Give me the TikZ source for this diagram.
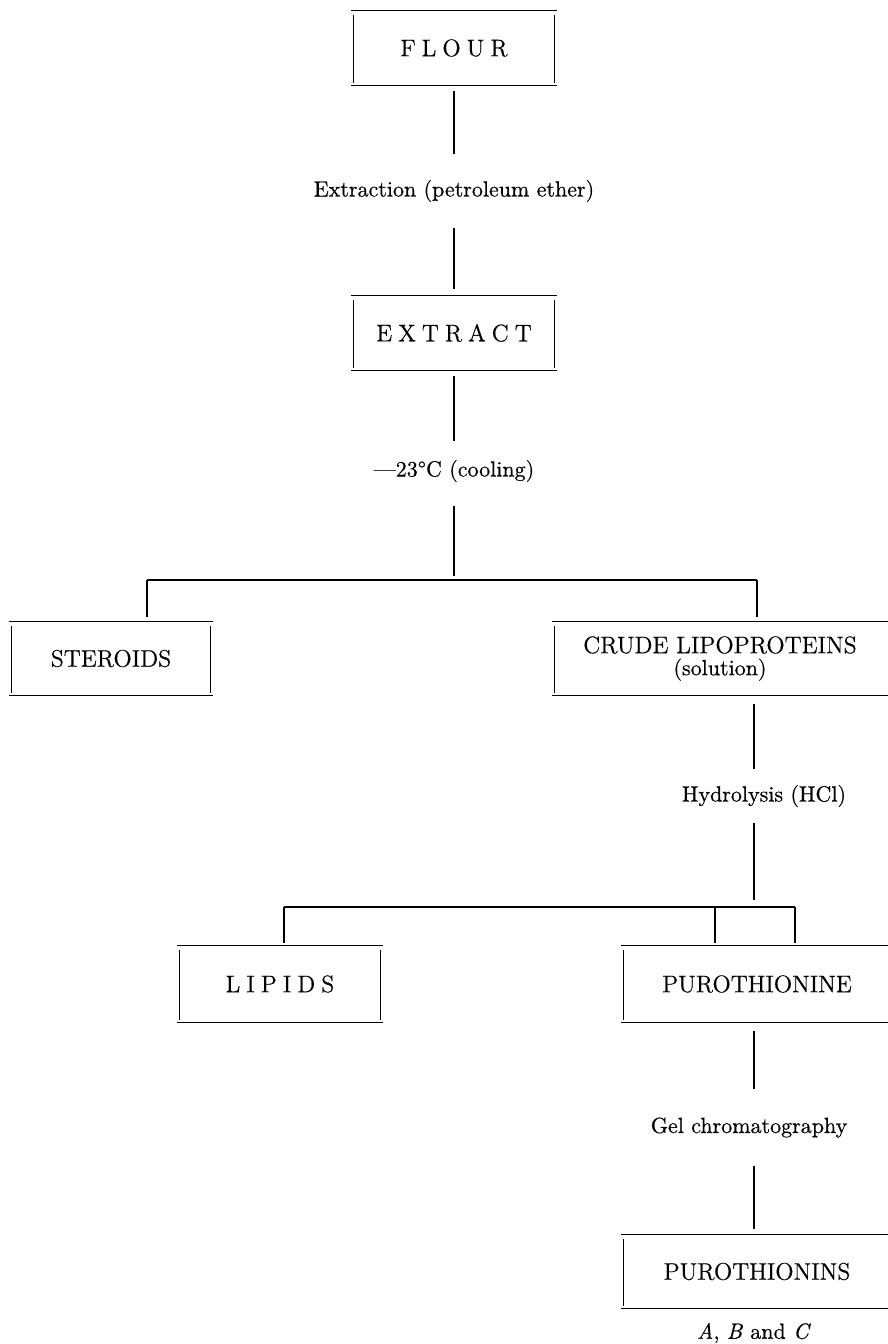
\documentclass[tikz,border=0pt]{standalone}
\usepackage{fontspec}
\setmainfont{Latin Modern Roman}[FakeBold=0.5]
\newcommand\boxfont{\fontsize{12}{14}\selectfont}
\newcommand\labfont{\fontsize{11}{13}\selectfont}
\newcommand\lsp{\kern3pt}
\tikzset{
  every edge/.append style={line width=0.55pt},
  box/.style={inner sep=0pt, font=\boxfont, align=center,
    append after command={
      (\tikzlastnode.north west) edge (\tikzlastnode.north east)
      (\tikzlastnode.south west) edge (\tikzlastnode.south east)
      ([xshift=1pt,yshift=-2.5pt]\tikzlastnode.north west) edge ([xshift=1pt,yshift=1.5pt]\tikzlastnode.south west)
      ([xshift=-1pt,yshift=-2.5pt]\tikzlastnode.north east) edge ([xshift=-1pt,yshift=1.5pt]\tikzlastnode.south east)}},
  openbox/.style={inner sep=0pt, font=\boxfont, align=center,
    append after command={
      (\tikzlastnode.north west) edge (\tikzlastnode.north east)
      (\tikzlastnode.south west) edge (\tikzlastnode.south east)
      ([xshift=1pt,yshift=-2.5pt]\tikzlastnode.north west) edge ([xshift=1pt,yshift=1.5pt]\tikzlastnode.south west)}},
  lab/.style={inner sep=0pt, font=\labfont}
}
\begin{document}
\begin{tikzpicture}[x=0.5pt, y=-0.5pt, line width=0.55pt]
\useasboundingbox (0,0) rectangle (888,1344);
\clip (0,0) rectangle (888,1344);

% top chain
\node[box, minimum width=102pt, minimum height=37pt] (flour) at (454,48) {F\lsp L\lsp O\lsp U\lsp R};
\node[lab, minimum height=36pt] (lab1) at (454,191) {Extraction (petroleum ether)};
\node[box, minimum width=102pt, minimum height=37pt] (extract) at (454,333) {E\lsp X\lsp T\lsp R\lsp A\lsp C\lsp T};
\node[lab, minimum height=29pt] (lab2) at (454,471) {\textemdash23\textdegree C (cooling)};
\coordinate (s1) at (454,580);
\coordinate (b1l) at (147,580);
\coordinate (b1r) at (757,580);

\draw[shorten <=2.5pt] (flour) -- (lab1);
\draw[shorten >=3pt] (lab1) -- (extract);
\draw[shorten <=2.5pt] (extract) -- (lab2);
\draw[shorten <=2.5pt, shorten >=2pt] (lab2) -- (s1);
\draw (b1l) -- (b1r);

% second level
\node[box, minimum width=101pt, minimum height=36.5pt] (steroids) at (111,658.5) {STEROIDS};
\node[openbox, minimum width=167pt, minimum height=36.5pt] (crude) at (720,658.5)
  {CRUDE LIPOPROTEINS\\[-3pt]{\labfont (solution)}};
\draw[shorten >=2pt] (b1l) -- (b1l |- steroids.north);
\draw[shorten >=2pt] (b1r) -- (b1r |- crude.north);

\coordinate (s2) at (754,907);
\coordinate (b2l) at (284,907);
\coordinate (b2m) at (715,907);
\coordinate (b2r) at (795,907);
\node[lab, minimum height=26pt] (lab3) at (764,796) {Hydrolysis (HCl)};
\draw[shorten <=4pt] (crude.south -| s2) -- (lab3.north -| s2);
\draw[shorten >=3.5pt] (lab3.south -| s2) -- (s2);
\draw (b2l) -- (b2r);

% third level
\node[box, minimum width=102pt, minimum height=38pt] (lipids) at (280,984) {L\lsp I\lsp P\lsp I\lsp D\lsp S};
\node[openbox, minimum width=135pt, minimum height=38pt] (puro) at (757,984) {PUROTHIONINE};
\draw[shorten >=1pt] (b2l) -- (b2l |- lipids.north);
\draw[shorten >=1pt] (b2m) -- (b2m |- puro.north);
\draw[shorten >=1pt] (b2r) -- (b2r |- puro.north);

\node[lab, minimum height=37.5pt] (lab4) at (749,1127.5) {Gel chromatography};
\node[openbox, minimum width=135pt, minimum height=36.5pt] (puros) at (757,1271.5) {PUROTHIONINS};
\node[lab] (abc) at (754,1333) {\textit{A}, \textit{B} and \textit{C}};
\draw[shorten <=4pt] (puro.south -| s2) -- (lab4.north -| s2);
\draw[shorten >=2.5pt] (lab4.south -| s2) -- (puros.north -| s2);
\end{tikzpicture}
\end{document}
